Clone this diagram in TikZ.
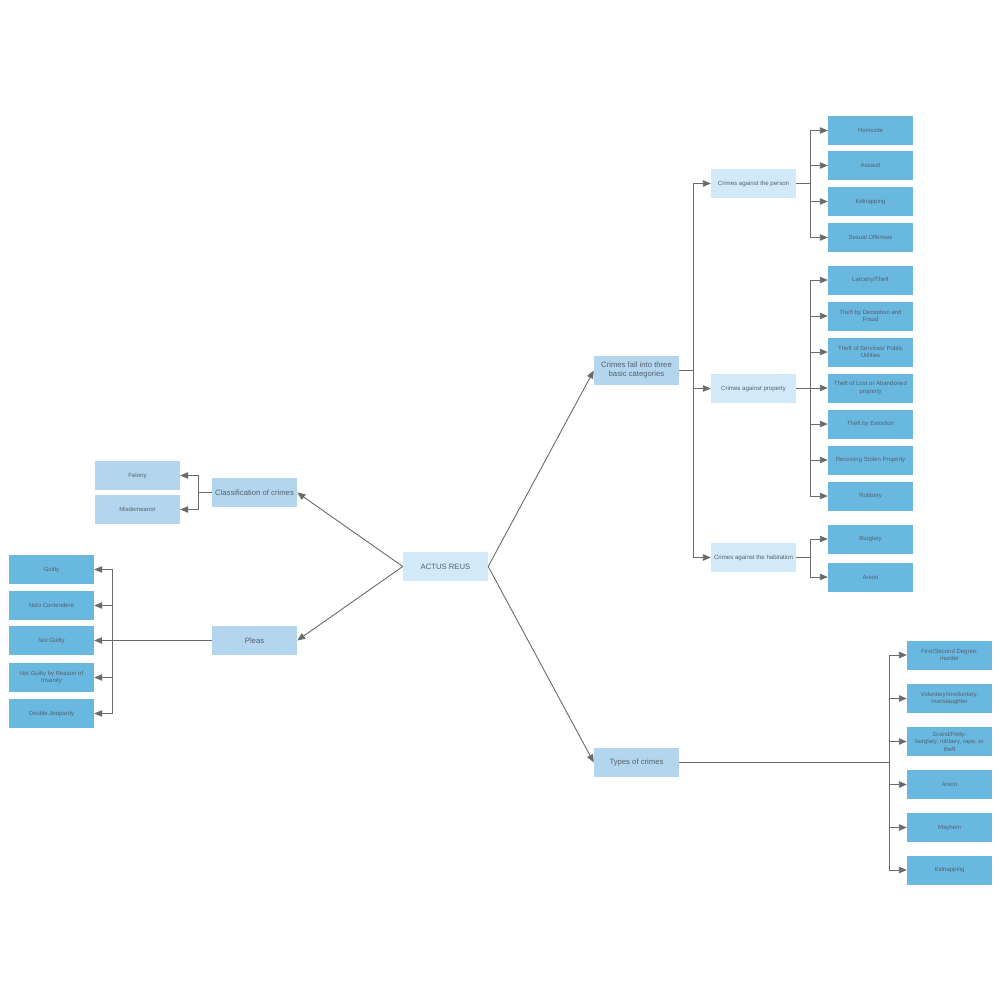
\documentclass[tikz,border=0pt]{standalone}
\usepackage{fontspec}
\setmainfont{Liberation Sans}
\usetikzlibrary{arrows.meta}
\definecolor{cLight}{HTML}{D2E9F7}
\definecolor{cMid}{HTML}{B3D6EE}
\definecolor{cDark}{HTML}{69B8E0}
\definecolor{cText}{HTML}{56606B}
\definecolor{cLine}{HTML}{6A6A6A}
\begin{document}
\begin{tikzpicture}[x=1pt,y=-1pt,
  box/.style={minimum width=85pt,minimum height=29pt,inner sep=1pt,align=center,text=cText},
  top/.style={box,fill=cMid,font=\fontsize{7.7}{9}\selectfont},
  root/.style={box,fill=cLight,font=\fontsize{7.7}{9}\selectfont},
  mid/.style={box,fill=cLight,font=\fontsize{6.1}{8}\selectfont},
  pale/.style={box,fill=cMid,font=\fontsize{6}{8}\selectfont},
  leaf/.style={box,fill=cDark,font=\fontsize{6}{7.6}\selectfont},
  arr/.style={draw=cLine,line width=0.9pt,-{Triangle[length=8pt,width=6.5pt]}},
  ln/.style={draw=cLine,line width=0.9pt}]
\useasboundingbox (0,0) rectangle (1000,1000);

% root and first level
\node[root] (ar) at (445.5,566.5) {ACTUS REUS};
\node[top] (cf) at (636.5,370.5) {Crimes fall into three\\basic categories};
\node[top] (tc) at (636.5,762.5) {Types of crimes};
\node[top] (cl) at (254.5,492.5) {Classification of crimes};
\node[top] (pl) at (254.5,640.5) {Pleas};

\draw[arr] (ar.east) -- (cf.west);
\draw[arr] (ar.east) -- (tc.west);
\draw[arr] (ar.west) -- (cl.east);
\draw[arr] (ar.west) -- (pl.east);

% classification
\node[pale] (fe) at (137.5,475.5) {Felony};
\node[pale] (mi) at (137.5,509.5) {Misdemeanor};
\coordinate (bcl) at (198,0);
\draw[arr] (cl.west) -- (cl.west -| bcl) |- (fe.east);
\draw[arr] (cl.west) -- (cl.west -| bcl) |- (mi.east);

% pleas
\node[leaf] (gu) at (51.5,569.5) {Guilty};
\node[leaf] (no) at (51.5,605.5) {Nolo Contendere};
\node[leaf] (ng) at (51.5,640.5) {Not Guilty};
\node[leaf] (nr) at (51.5,677.5) {Not Guilty by Reason of\\Insanity};
\node[leaf] (dj) at (51.5,713.5) {Double Jeopardy};
\coordinate (bpl) at (112,0);
\draw[arr] (pl.west) -- (ng.east);
\draw[arr] (pl.west -| bpl) |- (gu.east);
\draw[arr] (pl.west -| bpl) |- (no.east);
\draw[arr] (pl.west -| bpl) |- (nr.east);
\draw[arr] (pl.west -| bpl) |- (dj.east);

% three categories
\node[mid] (cp) at (753.5,183.5) {Crimes against the person};
\node[mid] (cy) at (753.5,388.5) {Crimes against property};
\node[mid] (ch) at (753.5,557.5) {Crimes against the habitation};
\coordinate (bcf) at (693,0);
\draw[arr] (cf.east) -- (cf.east -| bcf) |- (cp.west);
\draw[arr] (cf.east) -- (cf.east -| bcf) |- (cy.west);
\draw[arr] (cf.east) -- (cf.east -| bcf) |- (ch.west);

% person
\node[leaf] (p1) at (870.5,130.5) {Homicide};
\node[leaf] (p2) at (870.5,165.5) {Assault};
\node[leaf] (p3) at (870.5,201.5) {Kidnapping};
\node[leaf] (p4) at (870.5,237.5) {Sexual Offenses};
\coordinate (bp) at (810,0);
\foreach \c in {p1,p2,p3,p4}
  \draw[arr] (cp.east) -- (cp.east -| bp) |- (\c.west);

% property
\node[leaf] (q1) at (870.5,280) {Larceny/Theft};
\node[leaf] (q2) at (870.5,316) {Theft by Deception and\\Fraud};
\node[leaf] (q3) at (870.5,352) {Theft of Services/ Public\\Utilities};
\node[leaf] (q4) at (870.5,388) {Theft of Lost or Abandoned\\property};
\node[leaf] (q5) at (870.5,424) {Theft by Extortion};
\node[leaf] (q6) at (870.5,460) {Receiving Stolen Property};
\node[leaf] (q7) at (870.5,496) {Robbery};
\foreach \c in {q1,q2,q3,q4,q5,q6,q7}
  \draw[arr] (cy.east) -- (cy.east -| bp) |- (\c.west);

% habitation
\node[leaf] (h1) at (870.5,539) {Burglary};
\node[leaf] (h2) at (870.5,577) {Arson};
\foreach \c in {h1,h2}
  \draw[arr] (ch.east) -- (ch.east -| bp) |- (\c.west);

% types of crimes
\node[leaf] (t1) at (949.5,655) {First/Second Degree:\\murder};
\node[leaf] (t2) at (949.5,698.5) {Voluntary/Involuntary:\\manslaughter};
\node[leaf] (t3) at (949.5,741.5) {Grand/Petty:\\burglary, robbery, rape, or\\theft};
\node[leaf] (t4) at (949.5,784.5) {Arson};
\node[leaf] (t5) at (949.5,827.5) {Mayhem};
\node[leaf] (t6) at (949.5,870) {Kidnapping};
\coordinate (bt) at (889,0);
\foreach \c in {t1,t2,t3,t4,t5,t6}
  \draw[arr] (tc.east) -- (tc.east -| bt) |- (\c.west);
\end{tikzpicture}
\end{document}
